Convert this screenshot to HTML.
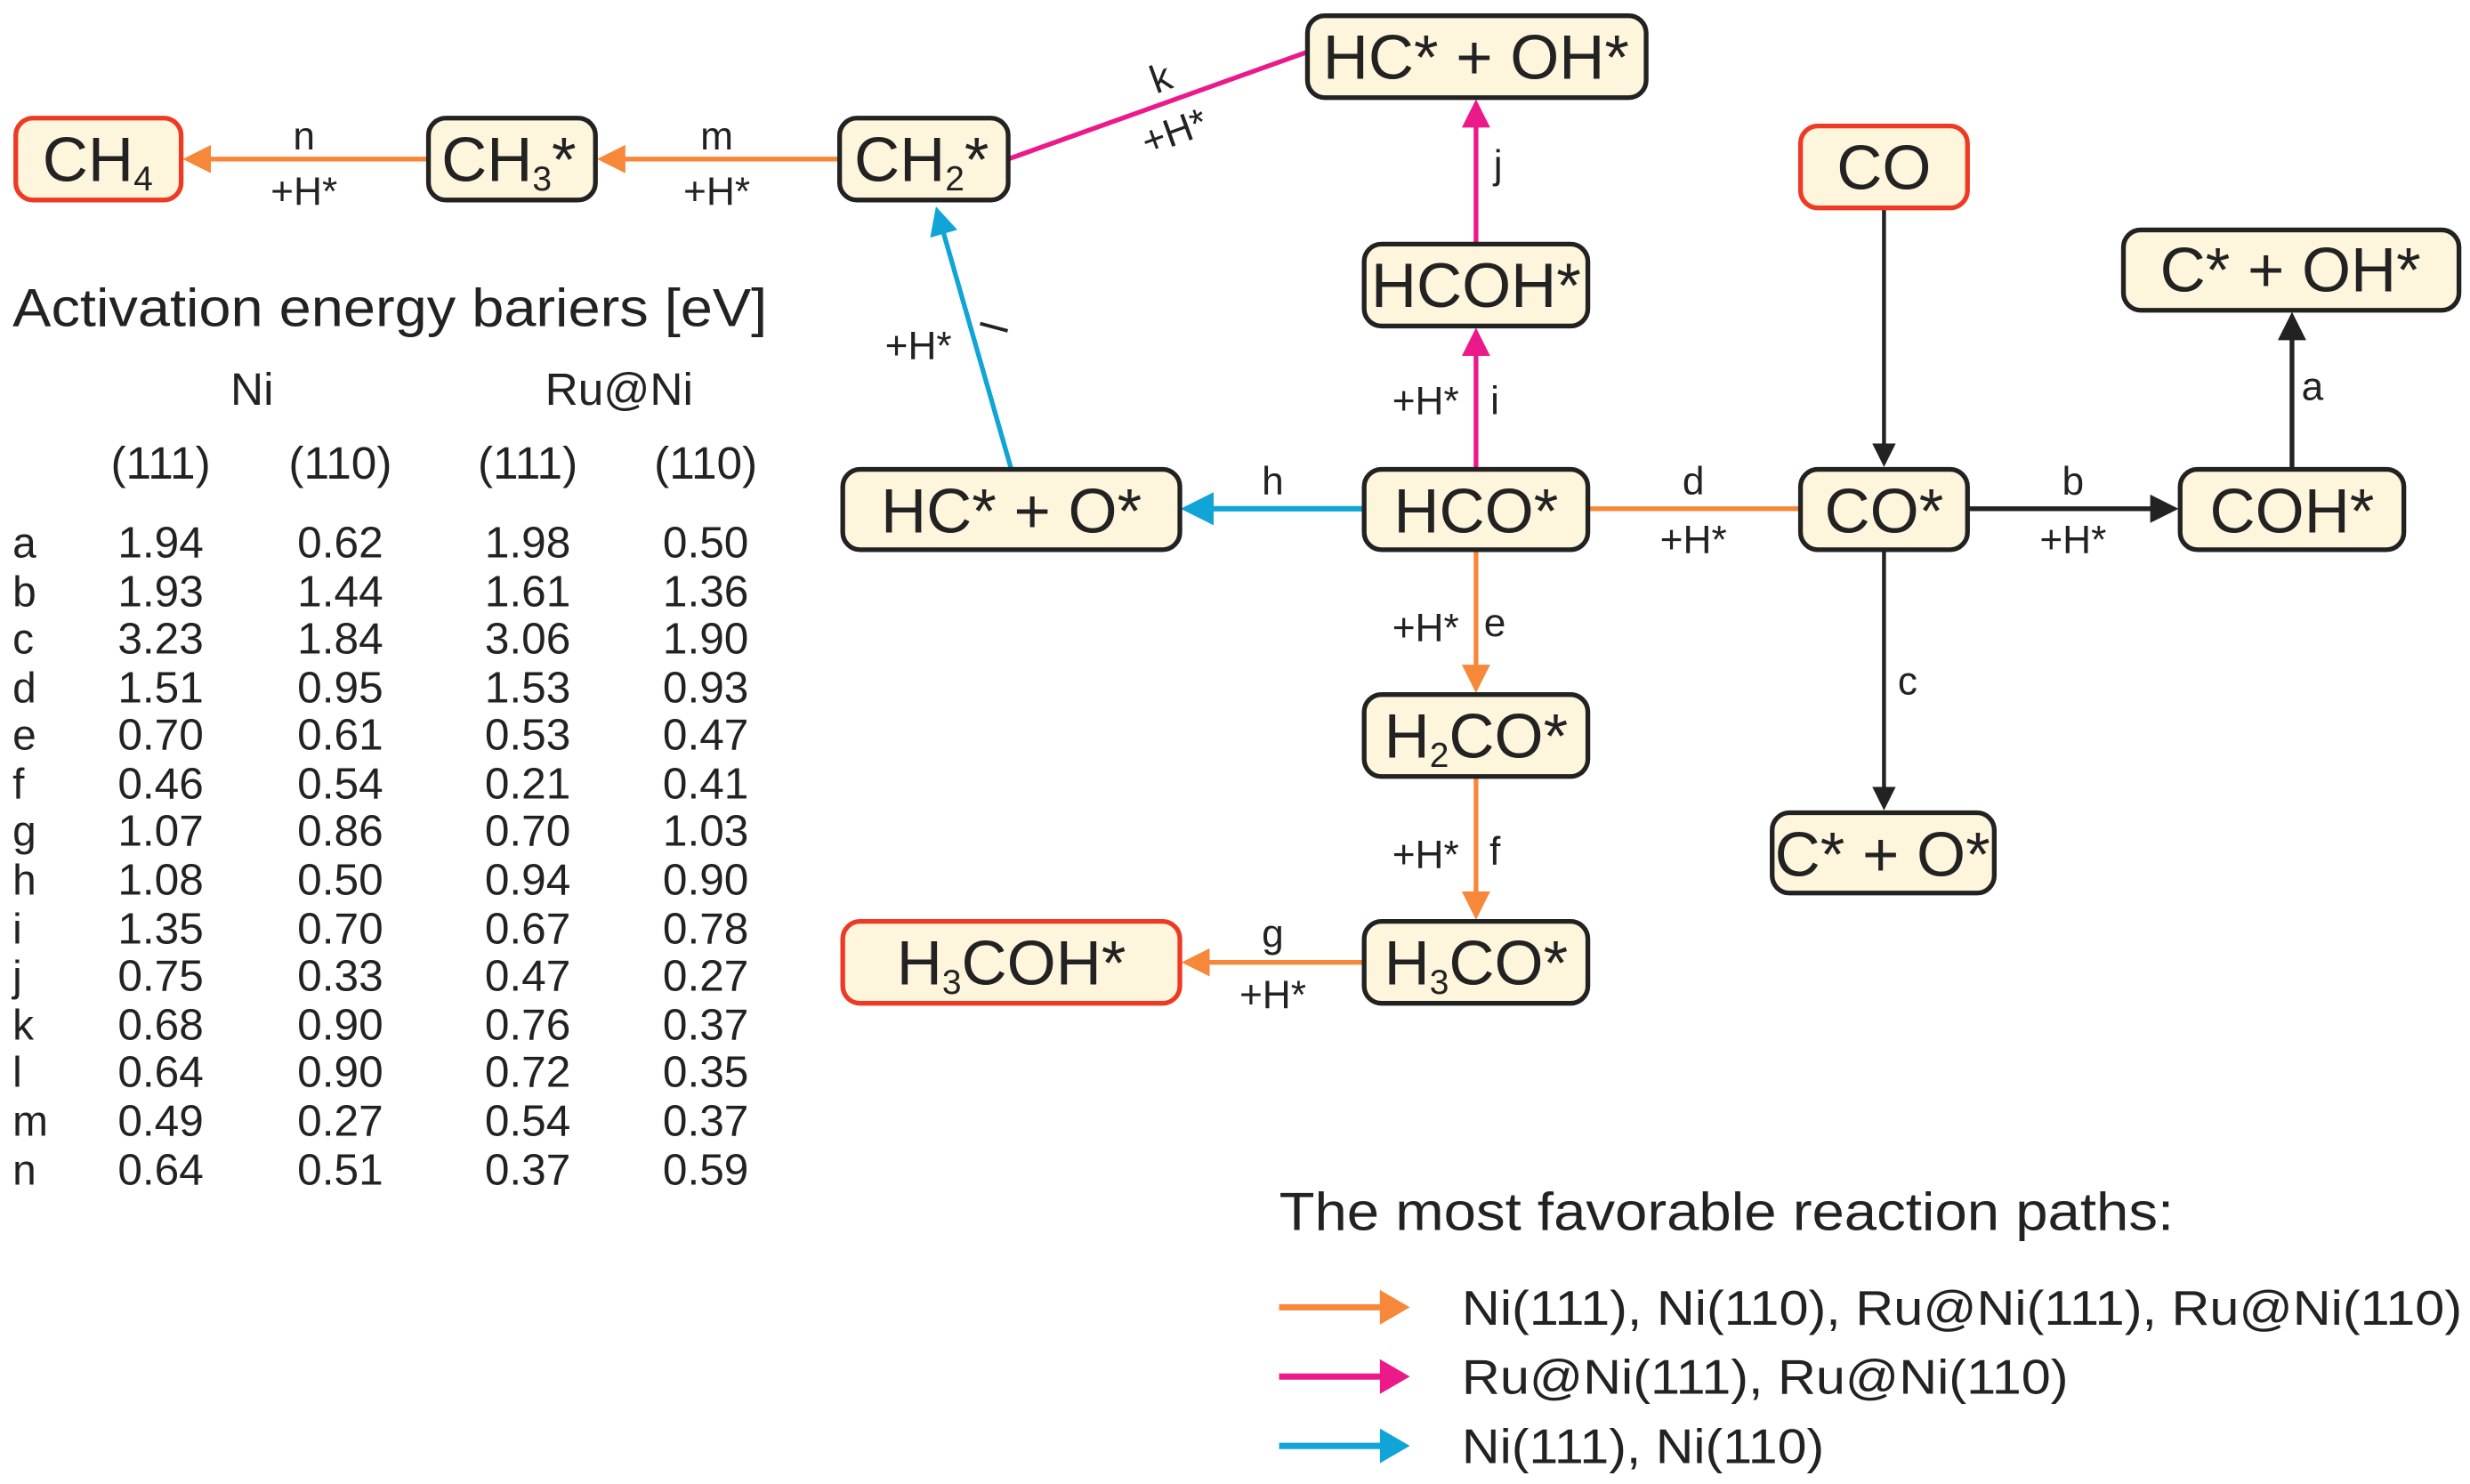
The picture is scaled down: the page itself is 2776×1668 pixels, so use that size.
<!DOCTYPE html>
<html><head><meta charset="utf-8"><style>
html,body{margin:0;padding:0;background:#fff;}
svg{display:block;}
text{font-family:"Liberation Sans",Arial,sans-serif;fill:#222;}
</style></head><body>
<svg width="2776" height="1668" viewBox="0 0 1568 942.2" preserveAspectRatio="none" xmlns="http://www.w3.org/2000/svg">
<defs>
<marker id="ao" markerWidth="6" markerHeight="6" refX="5" refY="3" orient="auto" markerUnits="strokeWidth"><path d="M0,0 L6,3 L0,6 z" fill="#f7883a"/></marker>
<marker id="am" markerWidth="6" markerHeight="6" refX="5" refY="3" orient="auto" markerUnits="strokeWidth"><path d="M0,0 L6,3 L0,6 z" fill="#ec198a"/></marker>
<marker id="ac" markerWidth="6" markerHeight="6" refX="5" refY="3" orient="auto" markerUnits="strokeWidth"><path d="M0,0 L6,3 L0,6 z" fill="#10a5d6"/></marker>
<marker id="ak" markerWidth="6" markerHeight="6" refX="5" refY="3" orient="auto" markerUnits="strokeWidth"><path d="M0,0 L6,3 L0,6 z" fill="#222"/></marker>
</defs>

<!-- connectors -->
<g fill="none" stroke-width="3">
<line x1="272" y1="101" x2="119" y2="101" stroke="#f7883a" marker-end="url(#ao)"/>
<line x1="533" y1="101" x2="382" y2="101" stroke="#f7883a" marker-end="url(#ao)"/>
<line x1="640" y1="101" x2="830" y2="33" stroke="#ec198a"/>
<line x1="642" y1="298" x2="595" y2="134" stroke="#10a5d6" marker-end="url(#ac)"/>
<line x1="937" y1="155" x2="937" y2="66" stroke="#ec198a" marker-end="url(#am)"/>
<line x1="937" y1="298" x2="937" y2="211" stroke="#ec198a" marker-end="url(#am)"/>
<line x1="866" y1="323" x2="753" y2="323" stroke="#10a5d6" marker-end="url(#ac)" stroke-width="3.5"/>
<line x1="1008" y1="323" x2="1143" y2="323" stroke="#f7883a"/>
<line x1="1249" y1="323" x2="1380" y2="323" stroke="#222" marker-end="url(#ak)"/>
<line x1="1455" y1="298" x2="1455" y2="201" stroke="#222" marker-end="url(#ak)"/>
<line x1="1196" y1="132" x2="1196" y2="294" stroke="#222" marker-end="url(#ak)" stroke-width="2.5"/>
<line x1="1196" y1="349" x2="1196" y2="512" stroke="#222" marker-end="url(#ak)" stroke-width="2.5"/>
<line x1="937" y1="349" x2="937" y2="437" stroke="#f7883a" marker-end="url(#ao)"/>
<line x1="937" y1="493" x2="937" y2="581" stroke="#f7883a" marker-end="url(#ao)"/>
<line x1="866" y1="611" x2="753" y2="611" stroke="#f7883a" marker-end="url(#ao)"/>
</g>

<!-- nodes -->
<g stroke-width="3" fill="#fdf5dc">
<rect x="10" y="75" width="105" height="52" rx="11" stroke="#ee3a24"/>
<rect x="272" y="75" width="106" height="52" rx="11" stroke="#222"/>
<rect x="533" y="75" width="107" height="52" rx="11" stroke="#222"/>
<rect x="830" y="10" width="215" height="52" rx="11" stroke="#222"/>
<rect x="866" y="155" width="142" height="52" rx="11" stroke="#222"/>
<rect x="1143" y="80" width="106" height="52" rx="11" stroke="#ee3a24"/>
<rect x="1348" y="146" width="213" height="51" rx="11" stroke="#222"/>
<rect x="535" y="298" width="214" height="51" rx="11" stroke="#222"/>
<rect x="866" y="298" width="142" height="51" rx="11" stroke="#222"/>
<rect x="1143" y="298" width="106" height="51" rx="11" stroke="#222"/>
<rect x="1384" y="298" width="142" height="51" rx="11" stroke="#222"/>
<rect x="866" y="441" width="142" height="52" rx="11" stroke="#222"/>
<rect x="1125" y="516" width="141" height="51" rx="11" stroke="#222"/>
<rect x="535" y="585" width="214" height="52" rx="11" stroke="#ee3a24"/>
<rect x="866" y="585" width="142" height="52" rx="11" stroke="#222"/>
</g>

<g font-size="40" text-anchor="middle">
<text x="62" y="115">CH<tspan font-size="22" dy="6">4</tspan></text>
<text x="323" y="115">CH<tspan font-size="22" dy="6">3</tspan><tspan dy="-6">*</tspan></text>
<text x="585" y="115">CH<tspan font-size="22" dy="6">2</tspan><tspan dy="-6">*</tspan></text>
<text x="937" y="50">HC* + OH*</text>
<text x="937" y="195">HCOH*</text>
<text x="1196" y="120">CO</text>
<text x="1454" y="185">C* + OH*</text>
<text x="642" y="338">HC* + O*</text>
<text x="937" y="338">HCO*</text>
<text x="1196" y="338">CO*</text>
<text x="1455" y="338">COH*</text>
<text x="937" y="481">H<tspan font-size="22" dy="6">2</tspan><tspan dy="-6">CO*</tspan></text>
<text x="1195" y="556">C* + O*</text>
<text x="642" y="625">H<tspan font-size="22" dy="6">3</tspan><tspan dy="-6">COH*</tspan></text>
<text x="937" y="625">H<tspan font-size="22" dy="6">3</tspan><tspan dy="-6">CO*</tspan></text>
</g>

<!-- edge labels -->
<g font-size="25" text-anchor="middle">
<text x="193" y="95">n</text><text x="193" y="130">+H*</text>
<text x="455" y="95">m</text><text x="455" y="130">+H*</text>
<text x="737" y="58" transform="rotate(-20 737 50)">k</text>
<text x="746" y="92" transform="rotate(-20 746 85)">+H*</text>
<text x="583" y="228">+H*</text>
<text x="632" y="216" transform="rotate(-75 632 208)">l</text>
<text x="951" y="113">j</text>
<text x="905" y="263">+H*</text><text x="949" y="263">i</text>
<text x="808" y="314">h</text>
<text x="1075" y="314">d</text><text x="1075" y="351">+H*</text>
<text x="1316" y="314">b</text><text x="1316" y="351">+H*</text>
<text x="1468" y="254">a</text>
<text x="1211" y="441">c</text>
<text x="905" y="407">+H*</text><text x="949" y="404">e</text>
<text x="905" y="551">+H*</text><text x="949" y="549">f</text>
<text x="808" y="601">g</text><text x="808" y="640">+H*</text>
</g>

<!-- table -->
<text x="8" y="207" font-size="34" textLength="479" lengthAdjust="spacingAndGlyphs">Activation energy bariers [eV]</text>
<g font-size="29" text-anchor="middle">
<text x="160" y="257">Ni</text><text x="393" y="257">Ru@Ni</text>
<text x="102" y="304">(111)</text><text x="216" y="304">(110)</text><text x="335" y="304">(111)</text><text x="448" y="304">(110)</text>
</g>
<g font-size="27">
<text x="8" y="354">a</text><text x="8" y="385">b</text><text x="8" y="415">c</text><text x="8" y="446">d</text><text x="8" y="476">e</text><text x="8" y="507">f</text><text x="8" y="537">g</text><text x="8" y="568">h</text><text x="8" y="599">i</text><text x="8" y="629">j</text><text x="8" y="660">k</text><text x="8" y="690">l</text><text x="8" y="721">m</text><text x="8" y="752">n</text>
</g>
<g font-size="28" text-anchor="middle">
<text x="102" y="354">1.94</text><text x="216" y="354">0.62</text><text x="335" y="354">1.98</text><text x="448" y="354">0.50</text>
<text x="102" y="385">1.93</text><text x="216" y="385">1.44</text><text x="335" y="385">1.61</text><text x="448" y="385">1.36</text>
<text x="102" y="415">3.23</text><text x="216" y="415">1.84</text><text x="335" y="415">3.06</text><text x="448" y="415">1.90</text>
<text x="102" y="446">1.51</text><text x="216" y="446">0.95</text><text x="335" y="446">1.53</text><text x="448" y="446">0.93</text>
<text x="102" y="476">0.70</text><text x="216" y="476">0.61</text><text x="335" y="476">0.53</text><text x="448" y="476">0.47</text>
<text x="102" y="507">0.46</text><text x="216" y="507">0.54</text><text x="335" y="507">0.21</text><text x="448" y="507">0.41</text>
<text x="102" y="537">1.07</text><text x="216" y="537">0.86</text><text x="335" y="537">0.70</text><text x="448" y="537">1.03</text>
<text x="102" y="568">1.08</text><text x="216" y="568">0.50</text><text x="335" y="568">0.94</text><text x="448" y="568">0.90</text>
<text x="102" y="599">1.35</text><text x="216" y="599">0.70</text><text x="335" y="599">0.67</text><text x="448" y="599">0.78</text>
<text x="102" y="629">0.75</text><text x="216" y="629">0.33</text><text x="335" y="629">0.47</text><text x="448" y="629">0.27</text>
<text x="102" y="660">0.68</text><text x="216" y="660">0.90</text><text x="335" y="660">0.76</text><text x="448" y="660">0.37</text>
<text x="102" y="690">0.64</text><text x="216" y="690">0.90</text><text x="335" y="690">0.72</text><text x="448" y="690">0.35</text>
<text x="102" y="721">0.49</text><text x="216" y="721">0.27</text><text x="335" y="721">0.54</text><text x="448" y="721">0.37</text>
<text x="102" y="752">0.64</text><text x="216" y="752">0.51</text><text x="335" y="752">0.37</text><text x="448" y="752">0.59</text>
</g>

<!-- legend -->
<text x="812" y="781" font-size="34" textLength="568" lengthAdjust="spacingAndGlyphs">The most favorable reaction paths:</text>
<g stroke-width="4">
<line x1="812" y1="830" x2="878" y2="830" stroke="#f7883a"/><path d="M876,819 L895,830 L876,841 z" fill="#f7883a"/>
<line x1="812" y1="874" x2="878" y2="874" stroke="#ec198a"/><path d="M876,863 L895,874 L876,885 z" fill="#ec198a"/>
<line x1="812" y1="918" x2="878" y2="918" stroke="#10a5d6"/><path d="M876,907 L895,918 L876,929 z" fill="#10a5d6"/>
</g>
<g font-size="31">
<text x="928" y="841" textLength="635" lengthAdjust="spacingAndGlyphs">Ni(111), Ni(110), Ru@Ni(111), Ru@Ni(110)</text>
<text x="928" y="885" textLength="385" lengthAdjust="spacingAndGlyphs">Ru@Ni(111), Ru@Ni(110)</text>
<text x="928" y="929" textLength="230" lengthAdjust="spacingAndGlyphs">Ni(111), Ni(110)</text>
</g>
</svg>
</body></html>
